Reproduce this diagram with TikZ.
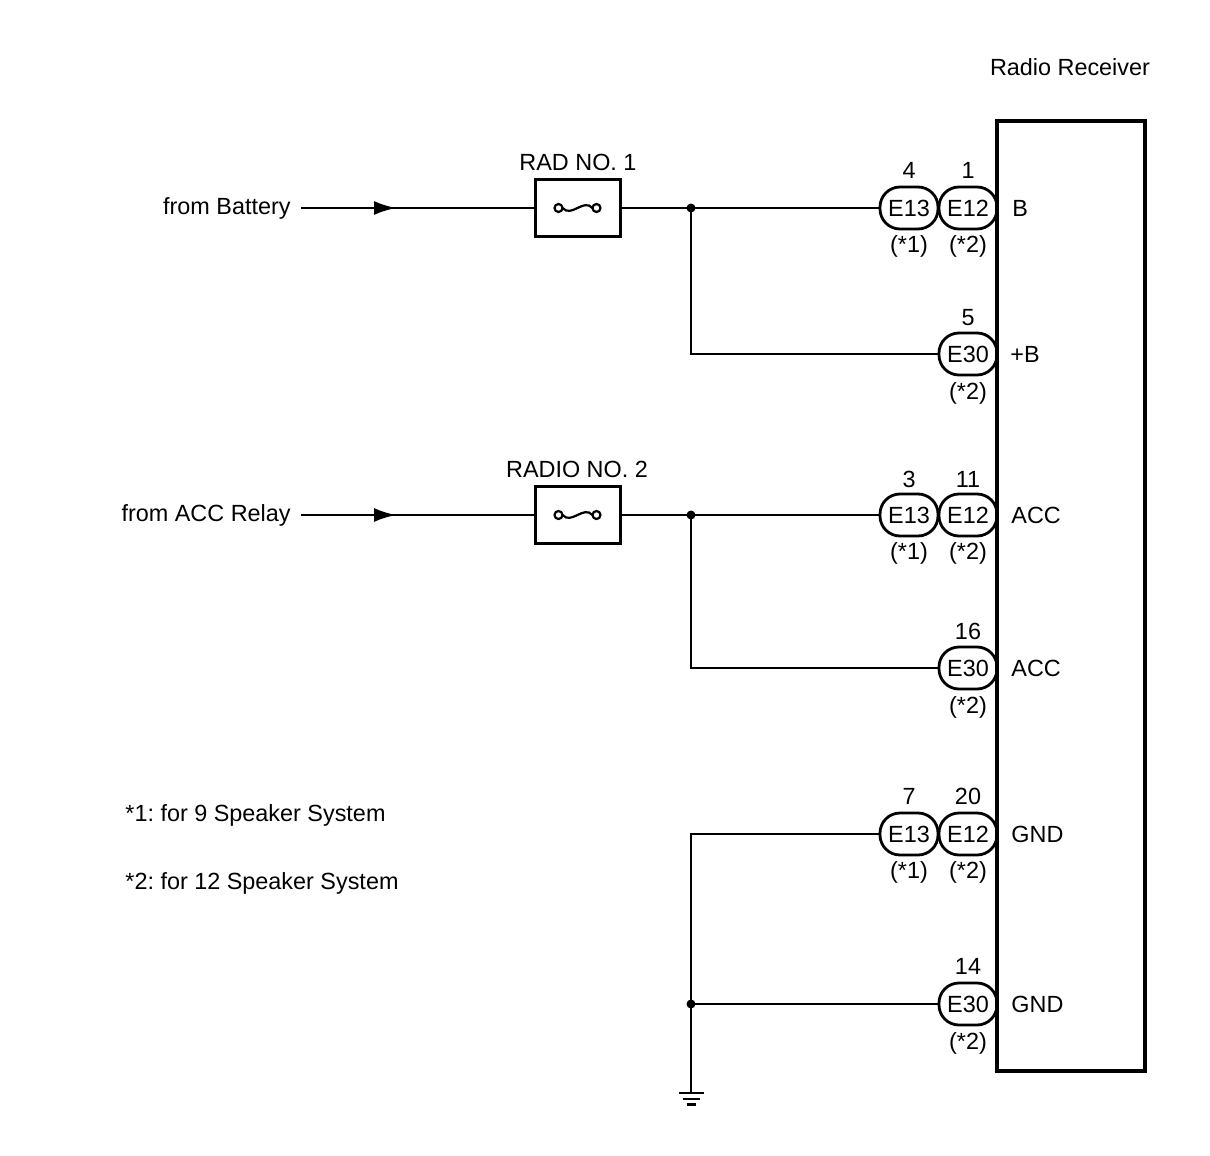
\documentclass[tikz,border=0pt]{standalone}
\usepackage{fontspec}
\setmainfont{Liberation Sans}
\usetikzlibrary{arrows.meta,calc}
\frenchspacing
\begin{document}
\begin{tikzpicture}[x=0.5pt,y=-0.5pt,
  lbl/.style={inner sep=0pt, font=\fontsize{11.7}{13}\selectfont},
  wire/.style={line width=1.1pt},
  conn/.style={draw, line width=1.4pt, rectangle, rounded corners=10pt, minimum width=29pt, minimum height=21pt, inner sep=0pt, font=\fontsize{11.7}{13}\selectfont},
  fusebox/.style={draw, line width=1.5pt, minimum width=42.5pt, minimum height=28.5pt, inner sep=0pt},
  jdot/.style={circle, fill=black, inner sep=0pt, minimum size=4.5pt},
  gndline/.style={line width=1.3pt}
]
\useasboundingbox (0,0) rectangle (1210,1156);
\fill[white] (0,0) rectangle (1210,1156);

% receiver
\node[draw, line width=1.6pt, minimum width=74pt, minimum height=475pt, inner sep=0pt] (rr) at (1071,596) {};
\node[lbl] (rrl) at (1070,67) {Radio Receiver};

% fuse macro
\newcommand{\fusesym}[1]{%
  \draw[line width=1.1pt] ([xshift=-7.5pt]#1.center) .. controls ([xshift=-3pt,yshift=-5pt]#1.center) and ([xshift=3pt,yshift=5pt]#1.center) .. ([xshift=7.5pt]#1.center);
  \draw[line width=1.1pt, fill=white] ([xshift=-9.5pt]#1.center) circle (2pt);
  \draw[line width=1.1pt, fill=white] ([xshift=9.5pt]#1.center) circle (2pt);
}

% ---- Row B (battery)
\node[lbl, anchor=east] (fb) at (291,208) {from Battery};
\coordinate (sb) at (301,208);
\coordinate (ab) at (396,208);
\node[fusebox] (f1) at (577.5,208) {};
\fusesym{f1}
\node[lbl] (f1l) at (578,162) {RAD NO. 1};
\node[jdot] (j1) at (691,208) {};
\node[conn] (c1a) at (909,208) {E13};
\node[conn] (c1b) at (968,208) {E12};
\node[lbl] at (909,170) {4};
\node[lbl] at (968,170) {1};
\node[lbl] at (909,246) {(*1)};
\node[lbl] at (968,246) {(*2)};
\node[lbl, anchor=west] at (1012,208) {B};
\draw[wire] (sb) -- (f1.west);
\draw[wire, -{Latex[length=11pt,width=7pt]}] (sb) -- (ab);
\draw[wire] (f1.east) -- (j1.center) -- (c1a.west);

% ---- Row +B
\node[conn] (c2) at (968,354) {E30};
\node[lbl] at (968,318) {5};
\node[lbl] at (968,393) {(*2)};
\node[lbl, anchor=west] at (1010,354) {+B};
\draw[wire] (j1.center) |- (c2.west);

% ---- Row ACC
\node[lbl, anchor=east] (fa) at (291,515) {from ACC Relay};
\coordinate (sa) at (301,515);
\coordinate (aa) at (396,515);
\node[fusebox] (f2) at (577.5,515) {};
\fusesym{f2}
\node[lbl] (f2l) at (577,469) {RADIO NO. 2};
\node[jdot] (j2) at (691,515) {};
\node[conn] (c3a) at (909,515) {E13};
\node[conn] (c3b) at (968,515) {E12};
\node[lbl] at (909,479) {3};
\node[lbl] at (968,479) {11};
\node[lbl] at (909,553) {(*1)};
\node[lbl] at (968,553) {(*2)};
\node[lbl, anchor=west] at (1011,515) {ACC};
\draw[wire] (sa) -- (f2.west);
\draw[wire, -{Latex[length=11pt,width=7pt]}] (sa) -- (aa);
\draw[wire] (f2.east) -- (j2.center) -- (c3a.west);

% ---- Row ACC 2
\node[conn] (c4) at (968,668) {E30};
\node[lbl] at (968,631) {16};
\node[lbl] at (968,707) {(*2)};
\node[lbl, anchor=west] at (1011,668) {ACC};
\draw[wire] (j2.center) |- (c4.west);

% ---- Row GND
\node[conn] (c5a) at (909,834) {E13};
\node[conn] (c5b) at (968,834) {E12};
\node[lbl] at (909,796) {7};
\node[lbl] at (968,796) {20};
\node[lbl] at (909,872) {(*1)};
\node[lbl] at (968,872) {(*2)};
\node[lbl, anchor=west] at (1011,834) {GND};

% ---- Row GND 2
\node[conn] (c6) at (968,1004) {E30};
\node[lbl] at (968,966) {14};
\node[lbl] at (968,1043) {(*2)};
\node[lbl, anchor=west] at (1011,1004) {GND};

\node[jdot] (j3) at (691,1004) {};
\coordinate (gt) at (691,834);
\coordinate (g) at (691,1093);
\draw[wire] (c5a.west) -- (gt) -- (g);
\draw[wire] (j3.center) -- (c6.west);
\draw[gndline] ([xshift=-6.25pt]g) -- ([xshift=6.25pt]g);
\draw[gndline] ([xshift=-4.25pt,yshift=-3pt]g) -- ([xshift=4.25pt,yshift=-3pt]g);
\draw[gndline] ([xshift=-2.25pt,yshift=-5.75pt]g) -- ([xshift=2.25pt,yshift=-5.75pt]g);

% notes
\node[lbl, anchor=west] (n1) at (125,815) {*1: for 9 Speaker System};
\node[lbl, anchor=west] (n2) at (125,883) {*2: for 12 Speaker System};
\end{tikzpicture}
\end{document}
